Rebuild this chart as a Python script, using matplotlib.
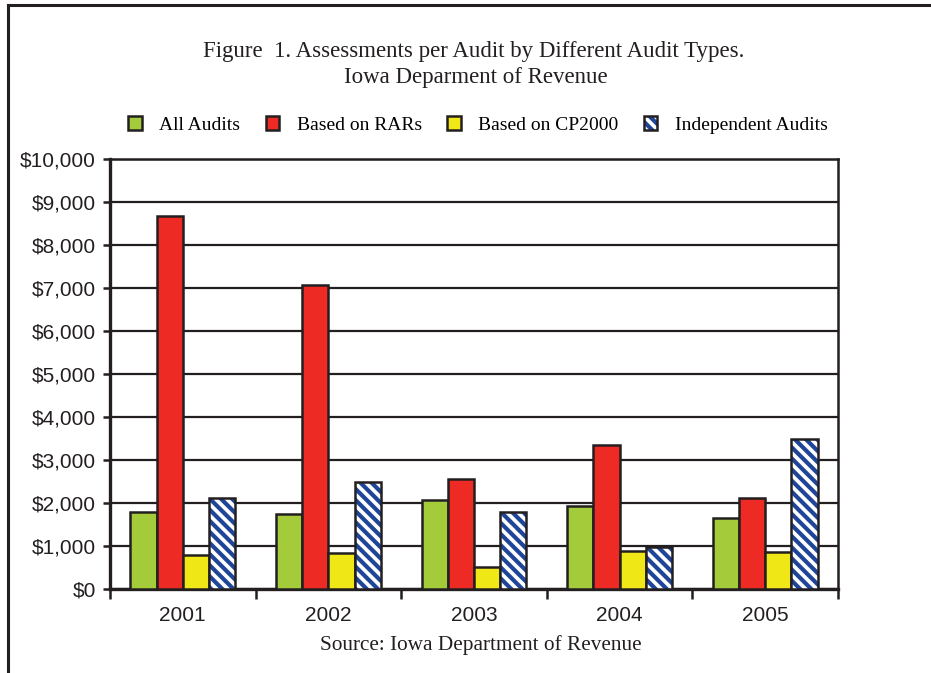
import numpy as np
import matplotlib
matplotlib.use('Agg')
import matplotlib.pyplot as plt
from matplotlib.ticker import StrMethodFormatter, FixedLocator
from matplotlib.lines import Line2D

years = ['2001', '2002', '2003', '2004', '2005']
all_audits = [1790, 1740, 2060, 1930, 1650]
based_rars = [8670, 7070, 2550, 3350, 2120]
based_cp2000 = [790, 840, 510, 890, 850]
independent = [2110, 2500, 1790, 970, 3490]

series_names = ['All Audits', 'Based on RARs', 'Based on CP2000', 'Independent Audits']
colors = ['#a4cc3a', '#ee2a24', '#f0e816']
hatch_blue = '#1f4599'
dark = '#231f20'

plt.rcParams['hatch.linewidth'] = 3.0

fig = plt.figure(figsize=(9.31, 6.73), dpi=100)
ax = fig.add_axes([110 / 931, 1 - 589 / 673, 728 / 931, 430 / 673])

x = np.arange(len(years))
w = 0.18
handles = []
for i, vals in enumerate([all_audits, based_rars, based_cp2000]):
    b = ax.bar(x + (i - 1.5) * w, vals, w, color=colors[i], edgecolor=dark,
               linewidth=1.8, zorder=3)
    handles.append(b)
# hatched bars: stripes first, then a black outline on top
hb = ax.bar(x + 1.5 * w, independent, w, color='white', edgecolor=hatch_blue,
            hatch='\\\\\\', linewidth=0, zorder=3)
ob = ax.bar(x + 1.5 * w, independent, w, fill=False, edgecolor=dark,
            linewidth=1.8, zorder=4)
handles.append((hb, ob))

ax.set_xlim(-0.5, 4.5)
ax.set_ylim(0, 10000)
ax.set_yticks(np.arange(0, 10001, 1000))
ax.yaxis.set_major_formatter(StrMethodFormatter('${x:,.0f}'))
ax.set_xticks(x)
ax.set_xticklabels(years)
ax.xaxis.set_minor_locator(FixedLocator(np.arange(-0.5, 5, 1)))
ax.tick_params(axis='x', which='major', length=0, pad=12)
ax.tick_params(axis='x', which='minor', length=7, width=1.8, color=dark)
ax.tick_params(axis='y', length=5, width=1.8, color=dark, pad=5)
for lab in ax.get_xticklabels() + ax.get_yticklabels():
    lab.set_fontfamily('Liberation Sans')
    lab.set_fontsize(15)
    lab.set_color(dark)

ax.grid(axis='y', color=dark, linewidth=1.6, zorder=0)
ax.set_axisbelow(True)
for s in ax.spines.values():
    s.set_color(dark)
    s.set_linewidth(1.8)
ax.spines['left'].set_linewidth(2.4)
ax.spines['bottom'].set_linewidth(2.4)

serif = 'Liberation Serif'
fig.text(474 / 931, 1 - 51 / 673, 'Figure  1. Assessments per Audit by Different Audit Types.',
         ha='center', va='center', fontsize=16.5, family=serif, color=dark)
fig.text(476 / 931, 1 - 77 / 673, 'Iowa Deparment of Revenue',
         ha='center', va='center', fontsize=16.5, family=serif, color=dark)
fig.text(481 / 931, 1 - 645 / 673, 'Source: Iowa Department of Revenue',
         ha='center', va='center', fontsize=15.3, family=serif, color=dark)

fig.legend(handles, series_names, loc='center', bbox_to_anchor=(478 / 931, 1 - 125 / 673),
           ncol=4, frameon=False, handlelength=0.7, handleheight=0.7,
           columnspacing=1.3, handletextpad=0.9,
           prop={'family': serif, 'size': 14})

# page border (left and top)
fig.add_artist(Line2D([8 / 931, 8 / 931], [0, 1 - 5 / 673], color=dark, linewidth=2.2,
                      transform=fig.transFigure))
fig.add_artist(Line2D([8 / 931, 1], [1 - 5 / 673, 1 - 5 / 673], color=dark, linewidth=2.2,
                      transform=fig.transFigure))

fig.savefig('out.png', dpi=100)
